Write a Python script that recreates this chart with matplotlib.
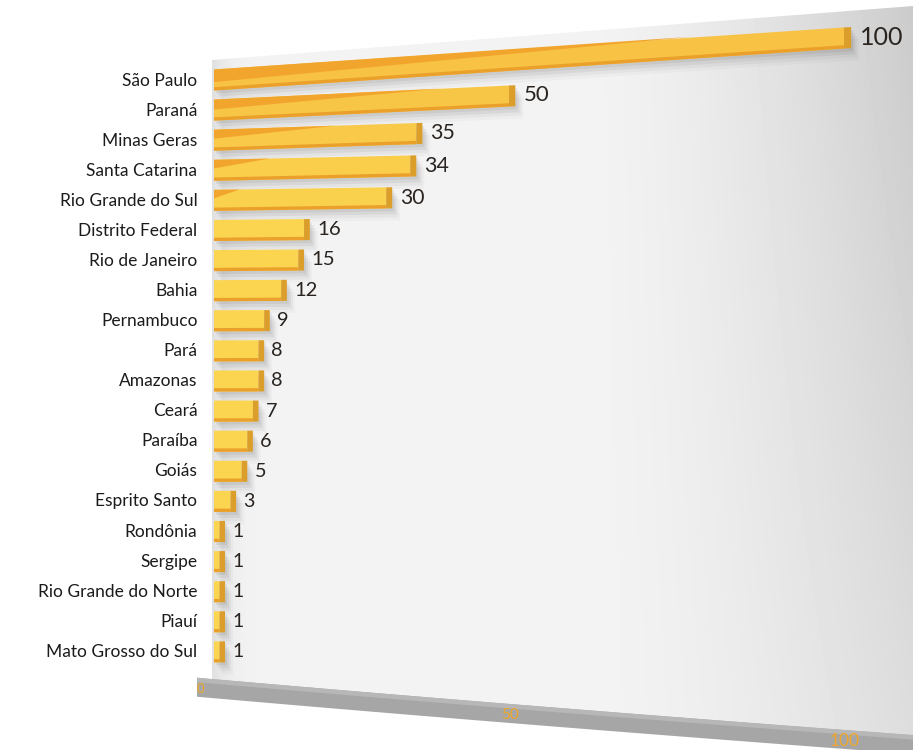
import numpy as np
import matplotlib.pyplot as plt
import matplotlib.transforms as mtransforms
from matplotlib.patches import Polygon

# Number of entries per state, largest first
states = ["São Paulo", "Paraná", "Minas Geras", "Santa Catarina", "Rio Grande do Sul",
          "Distrito Federal", "Rio de Janeiro", "Bahia", "Pernambuco", "Pará",
          "Amazonas", "Ceará", "Paraíba", "Goiás", "Esprito Santo", "Rondônia",
          "Sergipe", "Rio Grande do Norte", "Piauí", "Mato Grosso do Sul"]
counts = [100, 50, 35, 34, 30, 16, 15, 12, 9, 8, 8, 7, 6, 5, 3, 1, 1, 1, 1, 1]
floor_ticks = [0, 50, 100]

plt.rcParams['font.family'] = ['Lato', 'DejaVu Sans']


class Perspective(mtransforms.Transform):
    """Maps (value, row) onto a receding plane, output in pixel units."""
    input_dims = output_dims = 2
    is_separable = False
    has_inverse = False

    def __init__(self, x0, sx, qx, y0, step, tilt):
        super().__init__()
        self.x0, self.sx, self.qx = x0, sx, qx
        self.y0, self.step, self.tilt = y0, step, tilt

    def transform_non_affine(self, values):
        values = np.asarray(values, dtype=float)
        v, r = values[:, 0], values[:, 1]
        px = self.x0 + self.sx * v + self.qx * v * np.abs(v)
        py = self.y0 + self.step * r - self.tilt(r) * v
        return np.column_stack([px, py])


def wall_tilt(r):
    row = np.clip(np.floor(r + 0.5), 0, None)
    return 0.42 * np.exp(-row / 2.5)


def floor_tilt(r):
    return np.full_like(r, -0.52)


W, H = 913, 750
fig = plt.figure(figsize=(W / 100, H / 100), dpi=100)
ax = fig.add_axes([0, 0, 1, 1])
ax.set_xlim(0, W)
ax.set_ylim(H, 0)
ax.axis('off')

wall = Perspective(214, 5.5, 0.008, 80, 30.1, wall_tilt) + ax.transData
floor = Perspective(200, 5.95, 0.005, 688, 25, floor_tilt) + ax.transData
to_px = ax.transData.inverted()

# floor band
fv = np.linspace(-0.5, 112, 80)
top_edge = np.column_stack([fv, np.full_like(fv, -0.4)])
bot_edge = np.column_stack([fv[::-1], np.full_like(fv, 0.36)])
band = np.vstack([top_edge, bot_edge])
ax.fill(band[:, 0], band[:, 1], color='#a6a6a6', lw=0, transform=floor, zorder=1)
# lighter lip along the upper edge of the floor
lip = np.vstack([top_edge, np.column_stack([fv[::-1], np.full_like(fv, -0.22)])])
ax.fill(lip[:, 0], lip[:, 1], color='#b7b7b7', lw=0, transform=floor, zorder=1)

# back wall with soft shading
floor_top_px = to_px.transform(floor.transform(top_edge))
keep = floor_top_px[:, 0] >= 212
wall_verts = np.vstack([[[212, 60], [W, 6]],
                        floor_top_px[keep][::-1],
                        [[212, floor_top_px[keep][0, 1]]]])
X, Y = np.meshgrid(np.arange(W), np.arange(H))
lum = np.full((H, W), 0.955)
lum -= 0.08 * np.exp(-np.clip(X - 212, 0, None) / 16.0)
lum -= 0.16 * np.clip((X - 560) / 353.0, 0, 1) ** 1.6 * (1 - 0.45 * Y / H)
im = ax.imshow(np.clip(lum, 0, 1), cmap='gray', vmin=0, vmax=1, extent=(0, W, H, 0),
               origin='upper', zorder=0, interpolation='bilinear')
im.set_clip_path(Polygon(wall_verts, closed=True, transform=ax.transData))

rows = np.arange(len(states))
vals = np.array(counts, dtype=float)
h = 0.7
cap_w = 1.0

# soft shadows cast on the wall
for dx, dy, a in [(2, 3, 0.06), (4, 6, 0.05), (6, 9, 0.035), (8, 12, 0.025)]:
    ax.barh(rows, vals + cap_w, height=h, color='black', alpha=a, lw=0,
            transform=wall + mtransforms.Affine2D().translate(dx, -dy), zorder=2)

# front faces, orange towards the top and yellow further down
orange = np.array([0.972, 0.760, 0.270])
yellow = np.array([0.984, 0.835, 0.310])
mix = np.clip(rows / 5.0, 0, 1)[:, None]
front_colors = orange * (1 - mix) + yellow * mix
ax.barh(rows, vals, height=h, color=front_colors, lw=0, transform=wall, zorder=3)

# lower edge
ax.barh(rows + h / 2 - 0.055, vals, height=0.11, color='#eaa02a', lw=0,
        transform=wall, zorder=4)

# bevel on the upper bars
for r, v in zip(rows, vals):
    length = min(0.78 * v, 100 * np.exp(-r / 1.3))
    if length < 3:
        continue
    thick = 0.28 + 0.14 * np.exp(-r)
    ax.fill([0, length, 0], [r - h / 2, r - h / 2, r - h / 2 + thick],
            color='#f2a52c', lw=0, transform=wall, zorder=4)

# end caps
ax.barh(rows, cap_w, left=vals, height=h, color='#dc9e2a', lw=0,
        transform=wall, zorder=4)

# state names
for r, name in zip(rows, states):
    ax.text(-3, r, name, transform=wall, ha='right', va='center',
            fontsize=12.5, color='#1b1b1b')

# value labels
for r, v in zip(rows, vals):
    ax.text(v + cap_w + 1.3, r, f"{int(v)}", transform=wall, ha='left',
            va='center', fontsize=14 + 0.04 * v, color='#2a2420')

# scale on the floor
for t in floor_ticks:
    ax.text(t, 0.05, str(t), transform=floor, ha='center', va='center',
            fontsize=9.5 + 0.03 * t, color='#f0a62c', zorder=5)

fig.savefig('out.png', dpi=100)
